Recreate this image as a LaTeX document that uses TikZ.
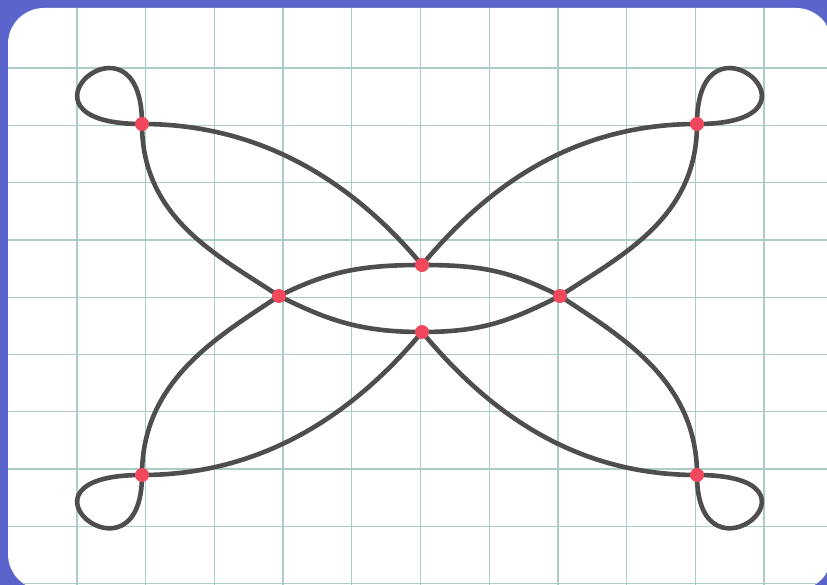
\documentclass[tikz,border=0pt]{standalone}
\usepackage{xcolor}
\usepackage{tikz}
\definecolor{frameblue}{RGB}{90,100,202}
\definecolor{gridteal}{RGB}{172,204,199}
\definecolor{curvegray}{RGB}{78,78,78}
\definecolor{dotred}{RGB}{242,72,94}

\begin{document}
\begin{tikzpicture}[
  x=1pt,y=-1pt,
  gridline/.style={draw=gridteal,line width=1.3pt},
  stroke/.style={draw=curvegray,line width=4.6pt,line cap=round},
  dot/.style={circle,fill=dotred,inner sep=0pt,minimum size=14pt}
]
\fill[frameblue] (0,0) rectangle (827,585);
\useasboundingbox (0,0) rectangle (827,585);
\begin{scope}
  \clip[rounded corners=36pt] (8,8) rectangle (832,590);
  \fill[white] (0,0) rectangle (840,600);
  \foreach \i in {0,...,10}
    \draw[gridline] (77+68.7*\i,0) -- (77+68.7*\i,600);
  \foreach \j in {0,...,9}
    \draw[gridline] (0,68+57.3*\j) -- (840,68+57.3*\j);
\end{scope}

\coordinate (tl) at (142,124);
\coordinate (tr) at (697,124);
\coordinate (ct) at (422,265);
\coordinate (ml) at (279,296);
\coordinate (mr) at (560,296);
\coordinate (cb) at (422,332);
\coordinate (bl) at (142,475);
\coordinate (br) at (697,475);

% loops
\draw[stroke] (tl) .. controls +(-146,0) and +(0,-126) .. (tl);
\draw[stroke] (tr) .. controls +(146,0) and +(0,-126) .. (tr);
\draw[stroke] (bl) .. controls +(-146,0) and +(0,120) .. (bl);
\draw[stroke] (br) .. controls +(146,0) and +(0,120) .. (br);
% petals
\draw[stroke] (tl) .. controls +(130,0) and +(-60,-72) .. (ct);
\draw[stroke] (tl) .. controls +(0,95) and +(-60,-40) .. (ml);
\draw[stroke] (tr) .. controls +(-130,0) and +(60,-72) .. (ct);
\draw[stroke] (tr) .. controls +(0,95) and +(60,-40) .. (mr);
\draw[stroke] (bl) .. controls +(130,0) and +(-60,72) .. (cb);
\draw[stroke] (bl) .. controls +(0,-95) and +(-60,40) .. (ml);
\draw[stroke] (br) .. controls +(-130,0) and +(60,72) .. (cb);
\draw[stroke] (br) .. controls +(0,-95) and +(60,40) .. (mr);
% lens
\draw[stroke] (ml) .. controls +(50,-25) and +(-60,0) .. (ct);
\draw[stroke] (ct) .. controls +(60,0) and +(-50,-25) .. (mr);
\draw[stroke] (ml) .. controls +(50,25) and +(-60,0) .. (cb);
\draw[stroke] (cb) .. controls +(60,0) and +(-50,25) .. (mr);

\foreach \p in {tl,tr,ct,ml,mr,cb,bl,br}
  \node[dot] (\p-dot) at (\p) {};
\end{tikzpicture}
\end{document}
